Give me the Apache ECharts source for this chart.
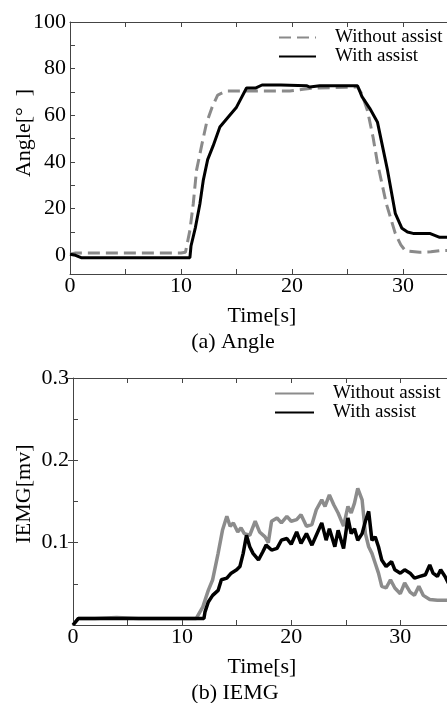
<!DOCTYPE html>
<html>
<head>
<meta charset="utf-8">
<script src="https://cdn.jsdelivr.net/npm/echarts@6/dist/echarts.min.js"></script>
<style>html,body{margin:0;padding:0;background:#fff}#c{width:447px;height:703px}</style>
</head>
<body>
<div id="c"></div>
<script>
// ---- (a) Angle ----
var angleNoT = [0, 0.5, 2, 5, 8, 10, 10.4, 10.8, 11.1, 11.4, 11.9, 12.3, 12.8, 13.3, 14.1, 16, 18, 19.8, 21, 21.9, 24, 25.9, 26.3, 26.8, 27.3, 27.7, 28.5, 29.3, 29.8, 30.2, 31.5, 32.5, 33.3, 35];
var angleNoV = [0.5, 1, 1, 1, 1, 1, 1.3, 10.7, 22, 36.5, 48, 56.7, 63.5, 68.7, 70.4, 70.4, 70.4, 70.4, 71.2, 71.7, 71.9, 72.2, 69, 62, 50.6, 39.5, 22, 9.4, 4.5, 2, 1.3, 1.5, 2, 2.2];
var angleWithT = [0, 0.5, 1, 2, 5, 8, 10.8, 10.9, 11.3, 11.7, 12.0, 12.4, 12.9, 13.5, 14.2, 15.0, 15.9, 16.7, 17.3, 19, 21.3, 21.6, 22.5, 24, 25.9, 26.3, 27.0, 27.7, 28.6, 29.3, 29.9, 30.4, 30.9, 32.4, 33.3, 35];
var angleWithV = [0.5, 0, -1, -1, -1, -1, -1, 4, 12, 22, 32, 41, 47, 55, 59, 63.5, 71.7, 71.7, 73, 73, 72.7, 72.1, 72.7, 72.7, 72.7, 68, 63, 57, 36.5, 18, 11.6, 10, 9.4, 9.4, 7.7, 7.7];
var angleXLabels = [0, 10, 20, 30];
var angleYLabels = [0, 20, 40, 60, 80, 100];

// ---- (b) IEMG ----
var iemgNoT = [0, 0.5, 2, 4, 6, 8, 10, 11.3, 11.9, 12.4, 12.8, 13.3, 13.7, 14.1, 14.4, 14.7, 15.1, 15.4, 15.7, 16.2, 16.7, 17.1, 17.6, 17.9, 18.2, 18.7, 19.1, 19.6, 20.0, 20.5, 20.9, 21.4, 21.9, 22.3, 22.8, 23.1, 23.5, 23.9, 24.3, 24.8, 25.2, 25.5, 25.8, 26.1, 26.5, 26.8, 27.1, 27.4, 27.7, 28.0, 28.3, 28.7, 29.1, 29.5, 30.0, 30.4, 30.9, 31.3, 31.7, 32.1, 32.7, 33.4, 34.3, 35];
var iemgNoV = [0, 0.008, 0.008, 0.009, 0.008, 0.008, 0.008, 0.008, 0.022, 0.042, 0.055, 0.087, 0.115, 0.132, 0.12, 0.124, 0.113, 0.118, 0.111, 0.109, 0.126, 0.113, 0.107, 0.1, 0.126, 0.13, 0.124, 0.132, 0.126, 0.128, 0.134, 0.12, 0.122, 0.14, 0.152, 0.144, 0.158, 0.146, 0.136, 0.12, 0.144, 0.136, 0.148, 0.166, 0.152, 0.111, 0.095, 0.087, 0.075, 0.063, 0.047, 0.045, 0.055, 0.045, 0.038, 0.051, 0.04, 0.036, 0.047, 0.036, 0.031, 0.03, 0.03, 0.029];
var iemgWithT = [0, 0.5, 2, 4, 6, 8, 10, 12.0, 12.1, 12.4, 12.8, 13.3, 13.6, 14.1, 14.5, 15.0, 15.3, 15.6, 15.9, 16.2, 16.5, 17.0, 17.4, 17.7, 18.2, 18.7, 19.1, 19.6, 20.0, 20.5, 20.9, 21.4, 21.9, 22.3, 22.8, 23.2, 23.5, 24.0, 24.3, 24.8, 25.2, 25.5, 25.8, 26.1, 26.5, 26.8, 27.1, 27.4, 27.7, 28.0, 28.3, 28.7, 29.2, 29.5, 30.0, 30.4, 30.9, 31.3, 31.8, 32.3, 32.7, 33.0, 33.4, 33.7, 34.1, 34.4, 35];
var iemgWithV = [0, 0.008, 0.008, 0.008, 0.008, 0.008, 0.008, 0.008, 0.016, 0.028, 0.036, 0.042, 0.055, 0.057, 0.063, 0.067, 0.071, 0.087, 0.109, 0.095, 0.087, 0.079, 0.089, 0.097, 0.091, 0.093, 0.103, 0.105, 0.098, 0.113, 0.099, 0.111, 0.097, 0.109, 0.124, 0.103, 0.117, 0.095, 0.115, 0.093, 0.13, 0.111, 0.117, 0.103, 0.111, 0.126, 0.138, 0.103, 0.107, 0.095, 0.079, 0.071, 0.077, 0.067, 0.063, 0.067, 0.063, 0.057, 0.059, 0.061, 0.073, 0.063, 0.059, 0.067, 0.059, 0.051, 0.048];
var iemgXLabels = [0, 10, 20, 30];
var iemgYLabels = [0.1, 0.2, 0.3];

var seriesNames = ['Without assist', 'With assist'];

function pairs(t, v) { return t.map(function (x, i) { return [x, v[i]]; }); }

var FONT = 'Liberation Serif';
var AX = '#444';
var chart = echarts.init(document.getElementById('c'));

// the plots run past the right edge of the picture: the visible x range ends before 35
function xAxes(gi, xmax, labels, namePad) {
  var tick = { show: true, inside: true, length: 5, lineStyle: { color: AX }, customValues: [0, 5, 10, 15, 20, 25, 30] };
  return [
    { type: 'value', gridIndex: gi, min: 0, max: xmax, position: 'bottom',
      axisLine: { show: true, onZero: false, lineStyle: { color: AX, width: 1 } },
      axisTick: tick, splitLine: { show: false },
      axisLabel: { customValues: labels, color: '#000', fontFamily: FONT, fontSize: 22, margin: 1 },
      name: 'Time[s]', nameLocation: 'middle', nameGap: 31,
      nameTextStyle: { color: '#000', fontFamily: FONT, fontSize: 22, padding: [0, 0, 0, namePad] } },
    { type: 'value', gridIndex: gi, min: 0, max: xmax, position: 'top',
      axisLine: { show: true, onZero: false, lineStyle: { color: AX, width: 1 } },
      axisTick: tick, axisLabel: { show: false }, splitLine: { show: false } }
  ];
}
function yAxes(gi, min, max, ticks, labels, fmt, showRight) {
  var tick = { show: true, inside: true, length: 5, lineStyle: { color: AX }, customValues: ticks };
  return [
    { type: 'value', gridIndex: gi, min: min, max: max, position: 'left',
      axisLine: { show: true, onZero: false, lineStyle: { color: AX, width: 1 } },
      axisTick: tick, splitLine: { show: false },
      axisLabel: { customValues: labels, color: '#000', fontFamily: FONT, fontSize: 22, margin: 4, formatter: fmt } },
    { type: 'value', gridIndex: gi, min: min, max: max, position: 'right', show: showRight,
      axisLine: { show: false },
      axisTick: { show: true, inside: true, length: 5, lineStyle: { color: AX }, customValues: labels }, axisLabel: { show: false }, splitLine: { show: false } }
  ];
}

var xa = xAxes(0, 33.96, angleXLabels, 7).concat(xAxes(1, 34.28, iemgXLabels, 4));
var ya = yAxes(0, -8, 100, [0, 10, 20, 30, 40, 50, 60, 70, 80, 90, 100], angleYLabels, function (v) { return String(v); }, false)
  .concat(yAxes(1, 0, 0.3, [0.05, 0.1, 0.15, 0.2, 0.25, 0.3], iemgYLabels, function (v) { return v.toFixed(1); }, true));

var legendText = { color: '#000', fontFamily: FONT, fontSize: 19, lineHeight: 18, padding: [0, 0, 0, 14] };

chart.setOption({
  animation: false,
  backgroundColor: '#fff',
  grid: [
    { left: 70, top: 22, right: 0, height: 252 },
    { left: 73, top: 378, right: 0, height: 247 }
  ],
  xAxis: xa,
  yAxis: ya,
  legend: [
    { data: [seriesNames[0], 'a_with'], left: 278, top: 28, padding: 0, orient: 'vertical', itemWidth: 37, itemHeight: 14, itemGap: 0,
      itemStyle: { opacity: 0 }, textStyle: legendText, formatter: function (n) { return n === 'a_with' ? seriesNames[1] : n; } },
    { data: ['b_without', 'b_with'], left: 274, top: 384, padding: 0, orient: 'vertical', itemWidth: 39, itemHeight: 14, itemGap: 0,
      itemStyle: { opacity: 0 }, textStyle: legendText, formatter: function (n) { return n === 'b_with' ? seriesNames[1] : seriesNames[0]; } }
  ],
  title: [
    { text: '(a) Angle', left: 233, top: 331, padding: 0, textAlign: 'center', textStyle: { color: '#000', fontFamily: FONT, fontSize: 22, fontWeight: 'normal' } },
    { text: '(b) IEMG', left: 235, top: 682, padding: 0, textAlign: 'center', textStyle: { color: '#000', fontFamily: FONT, fontSize: 22, fontWeight: 'normal' } }
  ],
  graphic: [
    { type: 'text', x: 24, y: 133, rotation: Math.PI / 2, style: { text: 'Angle[°  ]', fill: '#000', font: '22px "Liberation Serif"', align: 'center', verticalAlign: 'middle' } },
    { type: 'text', x: 24, y: 494, rotation: Math.PI / 2, style: { text: 'IEMG[mv]', fill: '#000', font: '22px "Liberation Serif"', align: 'center', verticalAlign: 'middle' } }
  ],
  series: [
    { name: seriesNames[0], type: 'line', xAxisIndex: 0, yAxisIndex: 0, data: pairs(angleNoT, angleNoV), showSymbol: false, symbol: 'none',
      lineStyle: { color: '#8a8a8a', width: 3, type: [12, 6] }, itemStyle: { color: '#8a8a8a' }, z: 2 },
    { name: 'a_with', type: 'line', xAxisIndex: 0, yAxisIndex: 0, data: pairs(angleWithT, angleWithV), showSymbol: false, symbol: 'none',
      lineStyle: { color: '#000', width: 3 }, itemStyle: { color: '#000' }, z: 3 },
    { name: 'b_without', type: 'line', xAxisIndex: 2, yAxisIndex: 2, data: pairs(iemgNoT, iemgNoV), showSymbol: false, symbol: 'none',
      lineStyle: { color: '#8c8c8c', width: 3.5 }, itemStyle: { color: '#8c8c8c' }, z: 2 },
    { name: 'b_with', type: 'line', xAxisIndex: 2, yAxisIndex: 2, data: pairs(iemgWithT, iemgWithV), showSymbol: false, symbol: 'none',
      lineStyle: { color: '#000', width: 3.5 }, itemStyle: { color: '#000' }, z: 3 }
  ]
});
</script>
</body>
</html>
